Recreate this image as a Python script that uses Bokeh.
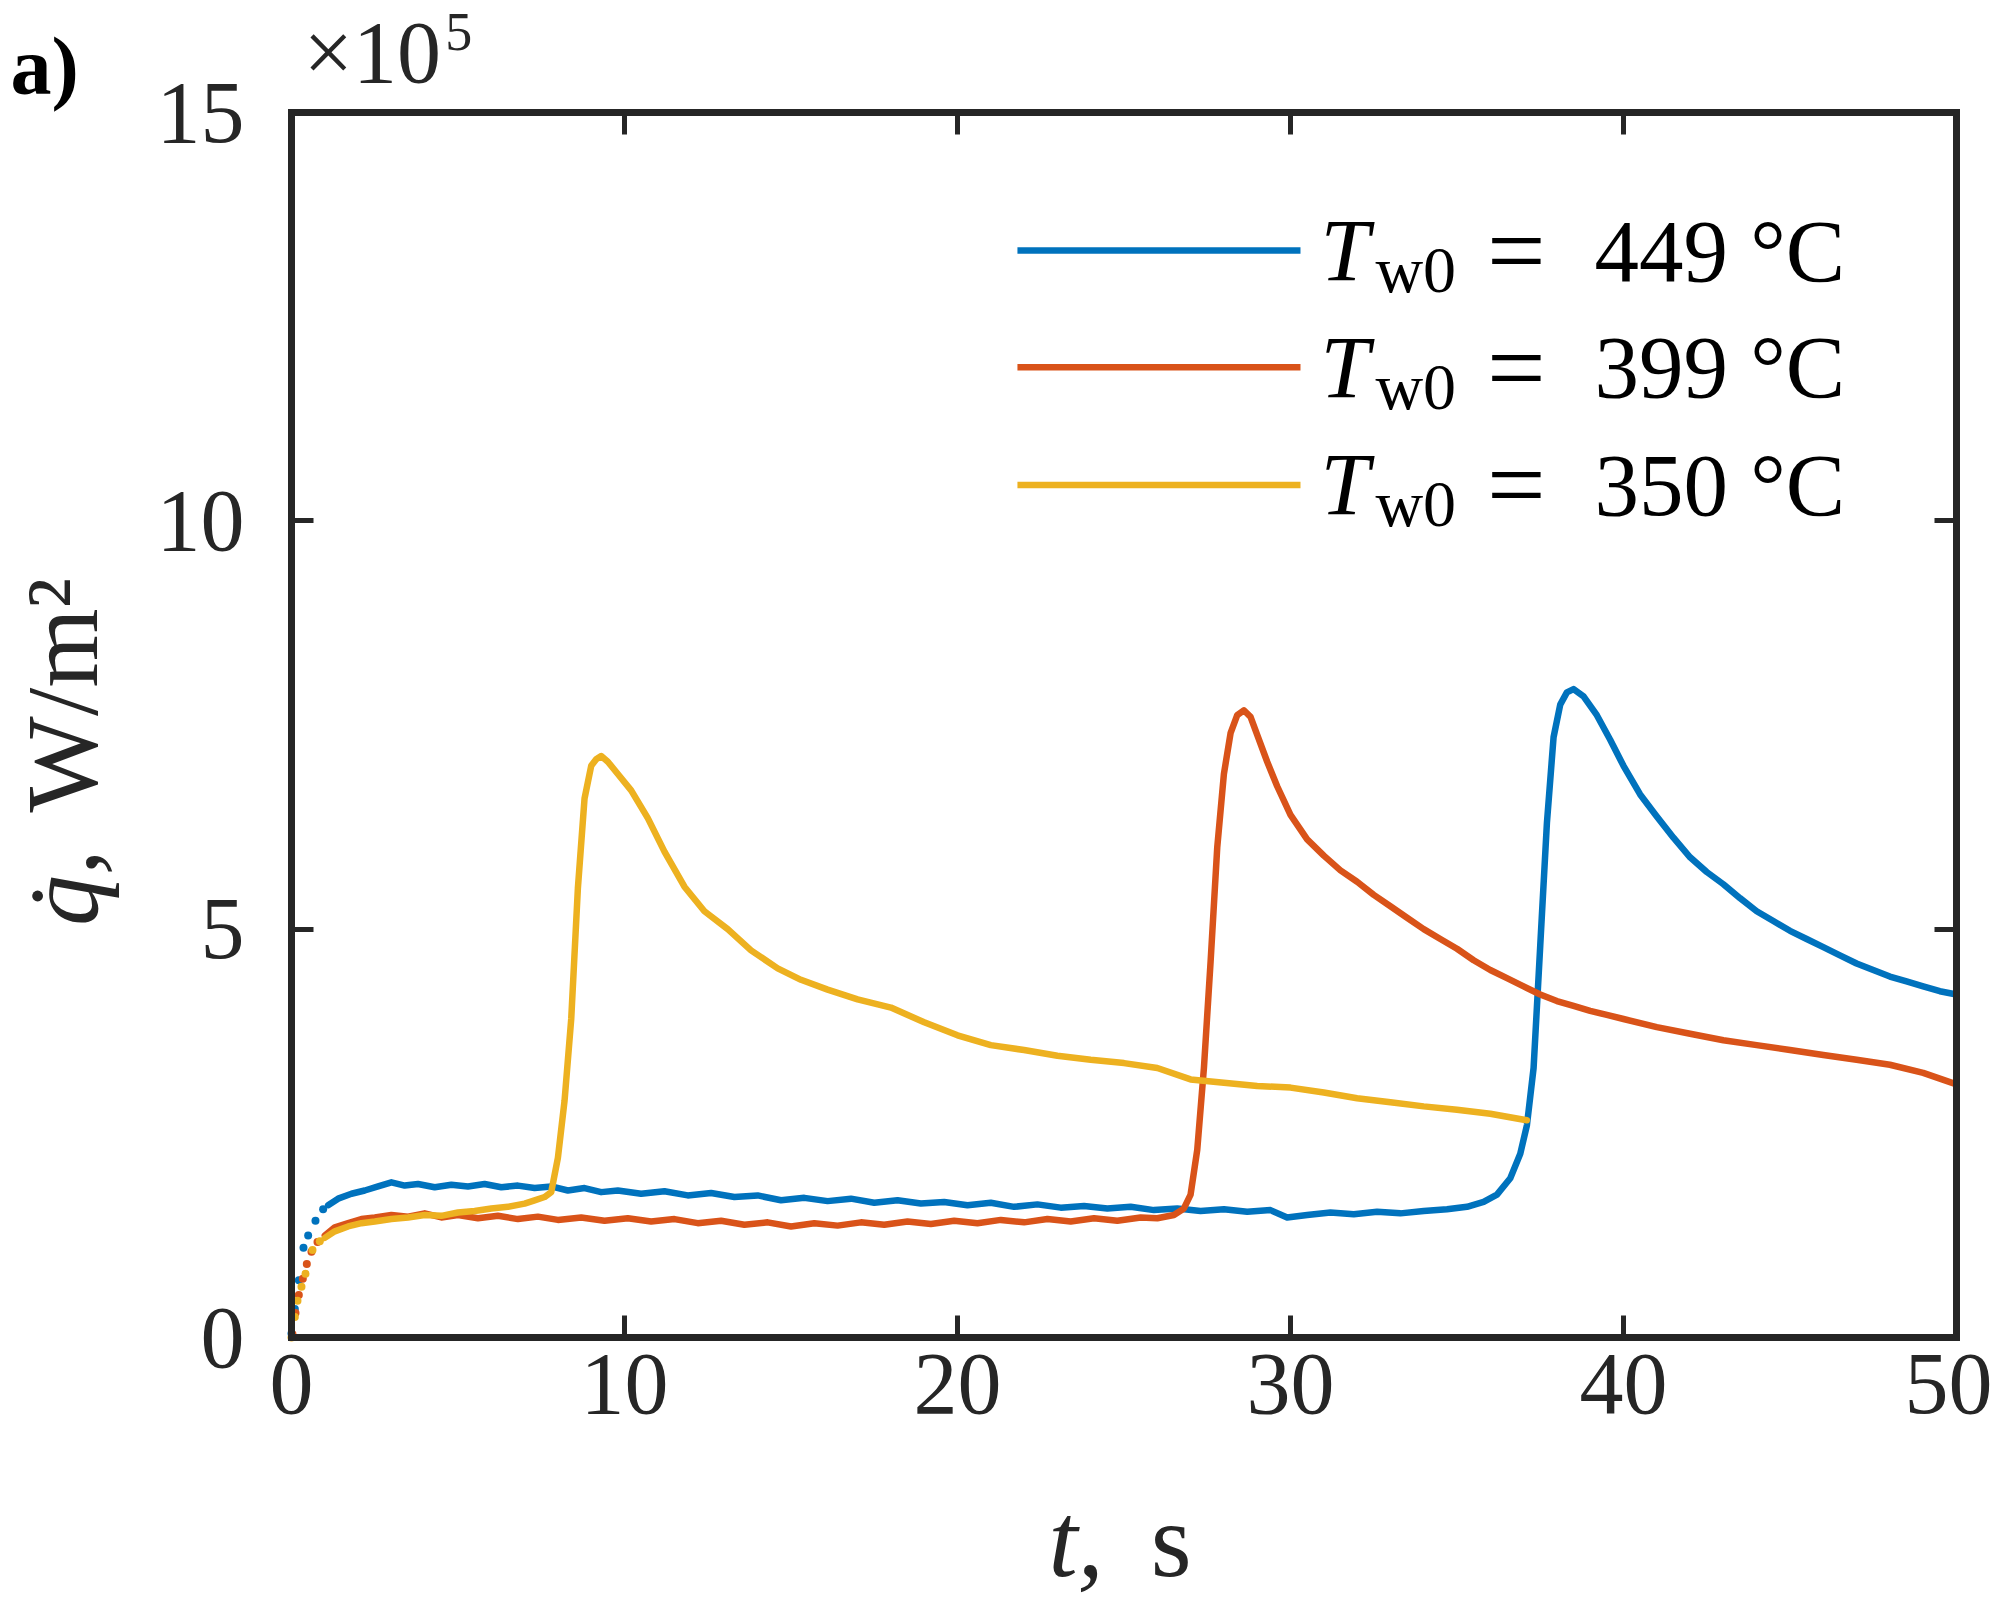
from bokeh.plotting import figure
from bokeh.models import Range1d, LinearAxis, FixedTicker, Label, CustomJSTickFormatter
from bokeh.embed import file_html
from bokeh.resources import INLINE

# ---------------- data (q in units of 1e5 W/m^2, t in s) ----------------
labels = ["449", "399", "350"]
colors = ["#0072BD", "#D95319", "#EDB120"]

t449 = [1.1, 1.4, 1.8, 2.2, 2.6, 3.0, 3.4, 3.8, 4.3, 4.8, 5.3, 5.8, 6.3, 6.8, 7.3, 7.8, 8.3, 8.8, 9.3, 9.8,
        10.5, 11.2, 11.9, 12.6, 13.3, 14.0, 14.7, 15.4, 16.1, 16.8, 17.5, 18.2, 18.9, 19.6, 20.3, 21.0,
        21.7, 22.4, 23.1, 23.8, 24.5, 25.2, 25.9, 26.6, 27.3, 28.0, 28.7, 29.4, 29.9, 30.5, 31.2, 31.9,
        32.6, 33.3, 34.0, 34.7, 35.3, 35.8, 36.2, 36.6, 36.9, 37.1, 37.3, 37.5, 37.7, 37.9, 38.1, 38.3,
        38.5, 38.8, 39.2, 39.6, 40.0, 40.5, 41.0, 41.5, 42.0, 42.5, 43.0, 43.5, 44.0, 44.5, 45.0, 45.5,
        46.0, 46.5, 47.0, 47.5, 48.0, 48.5, 49.0, 49.5, 50.0]
q449 = [1.62, 1.70, 1.76, 1.80, 1.85, 1.90, 1.86, 1.88, 1.84, 1.87, 1.85, 1.88, 1.84, 1.86, 1.83, 1.85, 1.80, 1.83, 1.78, 1.80,
        1.76, 1.79, 1.74, 1.77, 1.72, 1.74, 1.68, 1.71, 1.67, 1.70, 1.65, 1.68, 1.64, 1.66, 1.62, 1.65,
        1.60, 1.63, 1.59, 1.61, 1.58, 1.60, 1.56, 1.58, 1.55, 1.57, 1.54, 1.56, 1.47, 1.50, 1.53, 1.51,
        1.54, 1.52, 1.55, 1.57, 1.60, 1.66, 1.75, 1.95, 2.25, 2.60, 3.30, 4.80, 6.30, 7.35, 7.75, 7.90,
        7.94, 7.85, 7.62, 7.32, 7.00, 6.65, 6.38, 6.12, 5.88, 5.70, 5.55, 5.38, 5.22, 5.10, 4.98, 4.88,
        4.78, 4.68, 4.58, 4.50, 4.42, 4.36, 4.30, 4.24, 4.20]

t399 = [1.0, 1.3, 1.7, 2.1, 2.5, 3.0, 3.5, 4.0, 4.5, 5.0, 5.6, 6.2, 6.8, 7.4, 8.0, 8.7, 9.4, 10.1, 10.8, 11.5,
        12.2, 12.9, 13.6, 14.3, 15.0, 15.7, 16.4, 17.1, 17.8, 18.5, 19.2, 19.9, 20.6, 21.3, 22.0, 22.7,
        23.4, 24.1, 24.8, 25.5, 26.0, 26.5, 26.8, 27.0, 27.2, 27.4, 27.6, 27.8, 28.0, 28.2, 28.4, 28.6,
        28.8, 29.0, 29.3, 29.6, 30.0, 30.5, 31.0, 31.5, 32.0, 32.5, 33.0, 33.5, 34.0, 34.5, 35.0, 35.5,
        36.0, 36.5, 37.0, 37.5, 38.0, 38.5, 39.0, 39.5, 40.0, 41.0, 42.0, 43.0, 44.0, 45.0, 46.0, 47.0,
        48.0, 49.0, 50.0]
q399 = [1.25, 1.35, 1.40, 1.45, 1.47, 1.50, 1.48, 1.52, 1.47, 1.50, 1.46, 1.49, 1.45, 1.48, 1.44, 1.47, 1.43, 1.46, 1.42, 1.45,
        1.40, 1.43, 1.38, 1.41, 1.36, 1.40, 1.37, 1.41, 1.38, 1.42, 1.39, 1.43, 1.40, 1.44, 1.41, 1.45,
        1.42, 1.46, 1.43, 1.47, 1.46, 1.50, 1.58, 1.75, 2.30, 3.30, 4.60, 6.00, 6.90, 7.40, 7.62, 7.68,
        7.60, 7.38, 7.05, 6.75, 6.40, 6.10, 5.90, 5.72, 5.58, 5.42, 5.28, 5.14, 5.00, 4.88, 4.76, 4.62,
        4.50, 4.40, 4.30, 4.20, 4.12, 4.06, 4.00, 3.95, 3.90, 3.80, 3.72, 3.64, 3.58, 3.52, 3.46, 3.40,
        3.34, 3.24, 3.10]

t350 = [1.0, 1.3, 1.7, 2.1, 2.5, 3.0, 3.5, 4.0, 4.5, 5.0, 5.5, 6.0, 6.5, 7.0, 7.3, 7.6, 7.8, 8.0, 8.2, 8.4,
        8.6, 8.8, 9.0, 9.15, 9.3, 9.5, 9.8, 10.2, 10.7, 11.2, 11.8, 12.4, 13.1, 13.8, 14.6, 15.3, 16.1,
        17.0, 18.0, 19.0, 20.0, 21.0, 22.0, 23.0, 24.0, 25.0, 26.0, 27.0, 28.0, 29.0, 30.0, 31.0, 32.0,
        33.0, 34.0, 35.0, 36.0, 37.1]
q350 = [1.22, 1.30, 1.36, 1.40, 1.42, 1.45, 1.47, 1.50, 1.49, 1.53, 1.55, 1.58, 1.60, 1.64, 1.68, 1.72, 1.78, 2.20, 2.90, 3.90,
        5.50, 6.60, 7.00, 7.08, 7.12, 7.05, 6.90, 6.70, 6.36, 5.95, 5.52, 5.22, 5.00, 4.74, 4.52, 4.38, 4.26,
        4.14, 4.04, 3.86, 3.70, 3.58, 3.52, 3.45, 3.40, 3.36, 3.30, 3.16, 3.12, 3.08, 3.06, 3.00, 2.93,
        2.88, 2.83, 2.79, 2.74, 2.66]

# sparse first samples (shown as separate dots in the original)
t449_start = [0.0, 0.1, 0.22, 0.36, 0.5, 0.72, 0.95]
q449_start = [0.05, 0.35, 0.70, 1.10, 1.25, 1.43, 1.57]
t399_start = [0.03, 0.12, 0.22, 0.34, 0.46, 0.6, 0.78]
q399_start = [0.04, 0.30, 0.52, 0.72, 0.90, 1.05, 1.17]
t350_start = [0.0, 0.1, 0.18, 0.3, 0.42, 0.63, 0.85]
q350_start = [0.0, 0.25, 0.45, 0.62, 0.78, 1.07, 1.18]

x_ticks = [0, 10, 20, 30, 40, 50]
y_ticks = [0, 5, 10, 15]
X_LIM = (0, 50)
Y_LIM = (0, 15)

series = [
    (t449, q449, t449_start, q449_start),
    (t399, q399, t399_start, q399_start),
    (t350, q350, t350_start, q350_start),
]

# ---------------- layout ----------------
# The whole canvas is the Bokeh frame; the visible axes box is drawn by axes
# with fixed locations, so that texts outside the box are not clipped.
FONT = "Liberation Serif"
AX = "#262626"
W, H = 1992, 1599                 # canvas size
BOX_L, BOX_T = 291, 112           # axes box corner inside the canvas, px
BOX_W, BOX_H = 1665, 1225         # axes box size, px
sx = BOX_W / (X_LIM[1] - X_LIM[0])
sy = BOX_H / (Y_LIM[1] - Y_LIM[0])
x_range = Range1d(X_LIM[0] - BOX_L / sx, X_LIM[1] + (W - BOX_L - BOX_W) / sx)
y_range = Range1d(Y_LIM[0] - (H - BOX_T - BOX_H) / sy, Y_LIM[1] + BOX_T / sy)

p = figure(width=W, height=H, frame_width=W, frame_height=H,
           x_range=x_range, y_range=y_range,
           output_backend="svg", toolbar_location=None,
           min_border=0, min_border_left=0, min_border_right=0, min_border_top=0, min_border_bottom=0)
p.background_fill_color = "white"
p.border_fill_color = "white"
p.outline_line_color = None
p.grid.visible = False
for ax in p.axis:
    ax.visible = False


def make_axis(ticks, bounds, loc, show_labels, standoff=10):
    ax = LinearAxis(fixed_location=loc, bounds=bounds)
    ax.ticker = FixedTicker(ticks=ticks)
    ax.axis_line_color = AX
    ax.axis_line_width = 7
    ax.axis_line_cap = "square"
    ax.major_tick_line_color = AX
    ax.major_tick_line_width = 5
    ax.major_tick_in = 22
    ax.major_tick_out = 0
    ax.minor_tick_line_color = None
    ax.major_label_text_font = FONT
    ax.major_label_text_color = AX
    ax.major_label_standoff = standoff
    if show_labels:
        ax.major_label_text_font_size = "88px"
    else:
        ax.formatter = CustomJSTickFormatter(code="return ''")
        ax.major_label_text_font_size = "10px"
        ax.major_label_standoff = 0
    return ax


p.add_layout(make_axis(x_ticks, X_LIM, Y_LIM[0], True, 17), "below")
p.add_layout(make_axis(y_ticks, Y_LIM, X_LIM[0], True, 47), "left")
p.add_layout(make_axis(x_ticks, X_LIM, Y_LIM[1], False), "above")
p.add_layout(make_axis(y_ticks, Y_LIM, X_LIM[1], False), "right")

for (tl, ql, ts, qs), c in zip(series, colors):
    p.line(tl, ql, line_color=c, line_width=6.5, line_join="round", line_cap="round")
    p.scatter(ts, qs, size=8, fill_color=c, line_color=None)

# ---------------- legend (drawn manually for the subscript) ----------------
LEG_X0, LEG_X1 = 21.8, 30.3
LEG_Y = [13.31, 11.88, 10.44]
SUB_DROP = 0.23
p.segment(x0=[LEG_X0] * 3, x1=[LEG_X1] * 3, y0=LEG_Y, y1=LEG_Y, line_color=colors, line_width=6.5)
for lab, yy in zip(labels, LEG_Y):
    p.add_layout(Label(x=30.9, y=yy, text="T", text_font=FONT, text_font_size="88px",
                       text_font_style="italic", text_color="black", text_baseline="middle"))
    p.add_layout(Label(x=32.55, y=yy - SUB_DROP, text="w0", text_font=FONT, text_font_size="66px",
                       text_color="black", text_baseline="middle"))
    p.add_layout(Label(x=35.9, y=yy, text="=", text_font=FONT, text_font_size="104px",
                       text_color="black", text_baseline="middle"))
    p.add_layout(Label(x=39.13, y=yy, text=lab + " °C", text_font=FONT, text_font_size="89px",
                       text_color="black", text_baseline="middle"))

# ---------------- axis titles, multiplier, panel letter ----------------
p.add_layout(Label(x=22.73, y=-2.49, text="t,", text_font=FONT, text_font_size="105px",
                   text_font_style="italic", text_color=AX, text_baseline="middle"))
p.add_layout(Label(x=25.80, y=-2.49, text="s", text_font=FONT, text_font_size="105px",
                   text_color=AX, text_baseline="middle"))
p.add_layout(Label(x=-6.88, y=5.04, text="q̇,", text_font=FONT, text_font_size="102px",
                   text_font_style="italic", text_color=AX, angle=1.5708,
                   text_baseline="middle", text_align="left"))
p.add_layout(Label(x=-6.88, y=6.43, text="W/m²", text_font=FONT, text_font_size="102px",
                   text_color=AX, angle=1.5708, text_baseline="middle", text_align="left"))
p.add_layout(Label(x=0.36, y=15.735, text="×10", text_font=FONT, text_font_size="88px",
                   text_color=AX, text_baseline="middle"))
p.add_layout(Label(x=4.62, y=15.98, text="5", text_font=FONT, text_font_size="54px",
                   text_color=AX, text_baseline="middle"))
p.add_layout(Label(x=-8.44, y=15.56, text="a)", text_font=FONT, text_font_size="82px",
                   text_font_style="bold", text_color="black", text_baseline="middle"))

open("out.html", "w").write(file_html(p, INLINE))
